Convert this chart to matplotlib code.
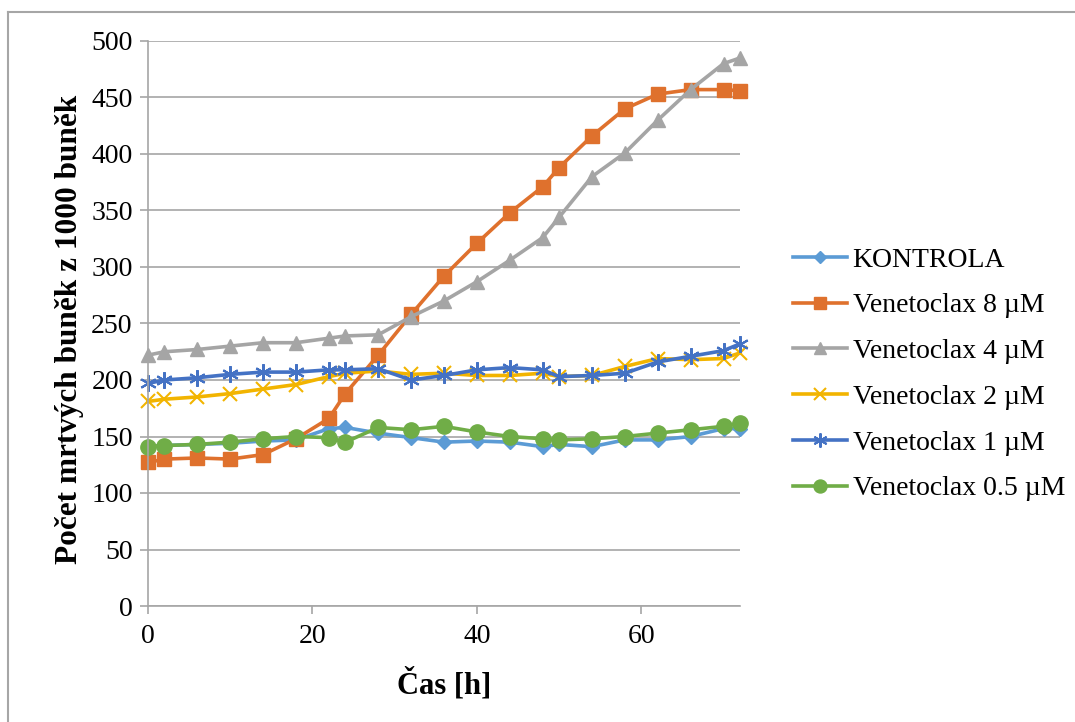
import matplotlib.pyplot as plt
from matplotlib.lines import Line2D

# ===== DATA =====
cas = [0, 2, 6, 10, 14, 18, 22, 24, 28, 32, 36, 40, 44, 48, 50, 54, 58, 62, 66, 70, 72]

kontrola = [141, 142, 143, 144, 146, 147, 157, 158, 153, 149, 145, 146, 145, 141, 143, 141, 147, 147, 150, 157, 157]
ven_8 = [127, 130, 131, 130, 134, 148, 166, 188, 222, 258, 292, 321, 348, 371, 388, 416, 440, 453, 457, 457, 456]
ven_4 = [222, 225, 227, 230, 233, 233, 237, 239, 240, 256, 270, 287, 306, 326, 344, 380, 401, 430, 457, 480, 485]
ven_2 = [181, 183, 185, 188, 192, 196, 203, 206, 208, 205, 206, 204, 204, 206, 203, 204, 212, 219, 218, 219, 224]
ven_1 = [197, 200, 202, 205, 207, 207, 209, 209, 210, 200, 204, 209, 211, 209, 203, 204, 206, 216, 221, 226, 232]
ven_05 = [141, 142, 143, 145, 148, 150, 149, 145, 158, 156, 159, 154, 150, 148, 147, 148, 150, 153, 156, 159, 162]

labels = ["KONTROLA", "Venetoclax 8 µM", "Venetoclax 4 µM",
          "Venetoclax 2 µM", "Venetoclax 1 µM", "Venetoclax 0.5 µM"]

# ===== STYL =====
plt.rcParams['font.family'] = ['Liberation Serif', 'DejaVu Serif']

barvy = ['#5B9BD5', '#DF712D', '#A5A5A5', '#F2B400', '#4472C4', '#70AD47']
znacky = ['D', 's', '^', 'x', (6, 2, 0), 'o']
velikosti = [7, 10, 10, 10, 12, 11]
serie = [kontrola, ven_8, ven_4, ven_2, ven_1, ven_05]

fig = plt.figure(figsize=(10.75, 7.22), dpi=100)
ax = fig.add_axes([148 / 1075, 1 - 606 / 722, (740 - 148) / 1075, (606 - 41) / 722])

# okraj grafu (jen vlevo a nahoře, zbytek je oříznutý)
fig.add_artist(Line2D([8 / 1075, 8 / 1075], [0, 1 - 12 / 722], transform=fig.transFigure,
                      color='#A6A6A6', lw=1.5))
fig.add_artist(Line2D([8 / 1075, 1], [1 - 12 / 722, 1 - 12 / 722], transform=fig.transFigure,
                      color='#A6A6A6', lw=1.5))

for y, c, m, s, lab in zip(serie, barvy, znacky, velikosti, labels):
    mew = 1.5 if m in ('x', (6, 2, 0)) else 1
    ax.plot(cas, y, color=c, lw=2.6, marker=m, markersize=s, markeredgewidth=mew,
            markerfacecolor=c, markeredgecolor=c, label=lab, clip_on=False)

ax.set_xlim(0, 72)
ax.set_ylim(0, 500)
ax.set_xticks([0, 20, 40, 60])
ax.set_yticks(range(0, 501, 50))
ax.grid(axis='y', color='#A6A6A6', lw=1.2)
ax.set_axisbelow(True)

for side in ['top', 'right']:
    ax.spines[side].set_visible(False)
ax.spines['left'].set_color('#A6A6A6')
ax.spines['bottom'].set_color('#A6A6A6')
ax.spines['left'].set_linewidth(1.2)
ax.spines['bottom'].set_linewidth(1.2)
ax.tick_params(axis='both', colors='#A6A6A6', labelcolor='black', labelsize=20,
               length=6, width=1.2, direction='out')
ax.tick_params(axis='x', pad=7)
ax.tick_params(axis='y', pad=5)

ax.set_xlabel("Čas [h]", fontsize=22, fontweight='bold', labelpad=14)
ax.set_ylabel("Počet mrtvých buněk z 1000 buněk", fontsize=22.5, fontweight='bold')
ax.yaxis.set_label_coords(-0.108, 0.49)

leg = ax.legend(loc='center left', bbox_to_anchor=(1.047, 0.41), frameon=False,
                fontsize=20, handlelength=1.95, handletextpad=0.2, labelspacing=0.73,
                markerscale=0.85)

plt.savefig("out.png", dpi=100)
